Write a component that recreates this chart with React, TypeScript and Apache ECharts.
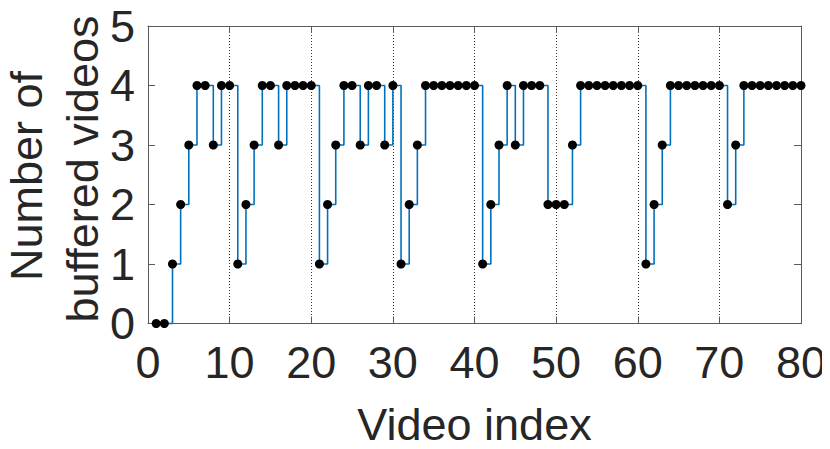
import React, { useEffect, useRef } from "react";
import * as echarts from "echarts";

const videoIndex: number[] = Array.from({ length: 80 }, (_, i) => i + 1);
const buffered: number[] = [
  0, 0, 1, 2, 3, 4, 4, 3, 4, 4,
  1, 2, 3, 4, 4, 3, 4, 4, 4, 4,
  1, 2, 3, 4, 4, 3, 4, 4, 3, 4,
  1, 2, 3, 4, 4, 4, 4, 4, 4, 4,
  1, 2, 3, 4, 3, 4, 4, 4, 2, 2,
  2, 3, 4, 4, 4, 4, 4, 4, 4, 4,
  1, 2, 3, 4, 4, 4, 4, 4, 4, 4,
  2, 3, 4, 4, 4, 4, 4, 4, 4, 4,
];
const xTicks = { min: 0, max: 80, interval: 10 };
const yTicks = { min: 0, max: 5, interval: 1 };
const xLabel = "Video index";
const yLabelLines = ["Number of", "buffered videos"];

const FONT = "'Liberation Sans', Arial, Helvetica, sans-serif";
const TXT = "#262626";
const AX = "#5a5a5a";

export default function App() {
  const ref = useRef<HTMLDivElement>(null);
  useEffect(() => {
    if (!ref.current) return;
    const chart = echarts.init(ref.current, undefined, { renderer: "svg" });
    const data = videoIndex.map((x, i) => [x, buffered[i]]);
    const tickInside = { show: true, inside: true, length: 7, lineStyle: { color: AX, width: 1 } };
    chart.setOption({
      animation: false,
      textStyle: { fontFamily: FONT },
      grid: { left: 148, right: 29, top: 26, bottom: 125.5, containLabel: false },
      xAxis: [
        {
          type: "value",
          min: xTicks.min,
          max: xTicks.max,
          interval: xTicks.interval,
          axisLine: { show: true, onZero: false, lineStyle: { color: AX, width: 1 } },
          axisTick: tickInside,
          axisLabel: { fontSize: 45, color: TXT, margin: 16, fontFamily: FONT },
          splitLine: { show: true, lineStyle: { color: "#333", type: [1, 2], width: 1 } },
        },
        {
          type: "value",
          position: "top",
          min: xTicks.min,
          max: xTicks.max,
          interval: xTicks.interval,
          axisLine: { show: true, onZero: false, lineStyle: { color: AX, width: 1 } },
          axisTick: tickInside,
          axisLabel: { show: false },
          splitLine: { show: false },
        },
      ],
      yAxis: [
        {
          type: "value",
          min: yTicks.min,
          max: yTicks.max,
          interval: yTicks.interval,
          axisLine: { show: true, onZero: false, lineStyle: { color: AX, width: 1 } },
          axisTick: tickInside,
          axisLabel: { fontSize: 45, color: TXT, margin: 13, fontFamily: FONT },
          splitLine: { show: false },
        },
        {
          type: "value",
          position: "right",
          min: yTicks.min,
          max: yTicks.max,
          interval: yTicks.interval,
          axisLine: { show: true, onZero: false, lineStyle: { color: AX, width: 1 } },
          axisTick: tickInside,
          axisLabel: { show: false },
          splitLine: { show: false },
        },
      ],
      graphic: [
        {
          type: "text",
          x: 474.5,
          y: 424,
          style: {
            text: xLabel,
            font: `45px ${FONT}`,
            fill: TXT,
            textAlign: "center",
            textVerticalAlign: "middle",
          },
        },
        {
          type: "text",
          x: 26,
          y: 176,
          rotation: Math.PI / 2,
          style: {
            text: yLabelLines[0],
            font: `45px ${FONT}`,
            fill: TXT,
            textAlign: "center",
            textVerticalAlign: "middle",
          },
        },
        {
          type: "text",
          x: 82,
          y: 169,
          rotation: Math.PI / 2,
          style: {
            text: yLabelLines[1],
            font: `45px ${FONT}`,
            fill: TXT,
            textAlign: "center",
            textVerticalAlign: "middle",
          },
        },
      ],
      series: [
        {
          type: "line",
          step: "end",
          data,
          xAxisIndex: 0,
          yAxisIndex: 0,
          clip: false,
          symbol: "circle",
          symbolSize: 9,
          showSymbol: true,
          itemStyle: { color: "#000" },
          lineStyle: { color: "#0072BD", width: 1.6 },
          z: 3,
        },
      ],
    });
    return () => chart.dispose();
  }, []);
  return <div ref={ref} style={{ width: 830, height: 449, margin: -8 }} />;
}
